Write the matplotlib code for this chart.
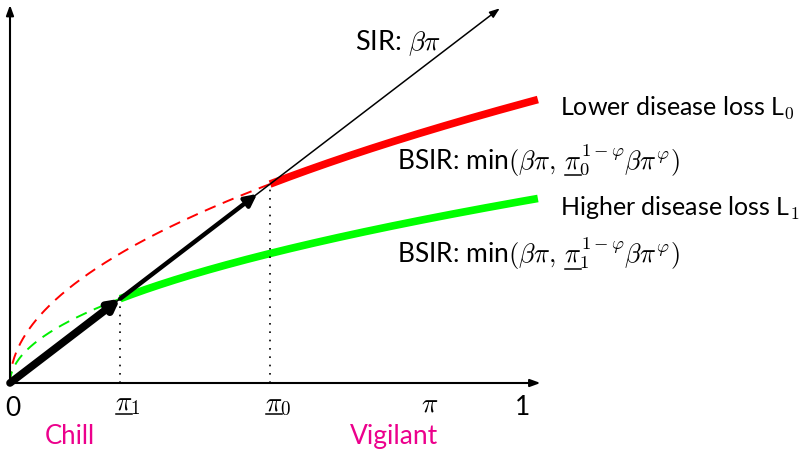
import numpy as np
import matplotlib
matplotlib.use("Agg")
import matplotlib.pyplot as plt
from matplotlib.lines import Line2D

# --- parameters ---
beta = 0.765          # SIR slope
phi = 0.5             # curvature exponent
pi_0 = 0.505          # threshold for lower disease loss
pi_1 = 0.214          # threshold for higher disease loss
pi_end = 1.025        # end of the BSIR curves
sir_end = 0.951       # end of SIR arrow

plt.rcParams['mathtext.fontset'] = 'cm'
plt.rcParams['font.family'] = ['Lato', 'DejaVu Sans']

fig = plt.figure(figsize=(8, 4.49), dpi=100)
ax = fig.add_axes([0, 0, 1, 1])
ax.set_xlim(-10/515, 790/515)
ax.set_ylim(-66/515, 383/515)
ax.axis('off')
renderer = fig.canvas.get_renderer()


def P(px, py):
    """reference pixel -> data coordinates"""
    return (px - 10) / 515, (383 - py) / 515


def width(s, fs):
    t = ax.text(0, 0, s, fontsize=fs)
    w = t.get_window_extent(renderer).width
    t.remove()
    return w


def text_ul(px, py, upto_pi, full, fs, drop=5.0, color='black'):
    """left/baseline text; underline the pi that ends the string upto_pi"""
    x, y = P(px, py)
    ax.text(x, y, full, fontsize=fs, ha='left', va='baseline', color=color)
    we = width(upto_pi, fs)
    w1 = width(r"$\pi$", fs)
    xe = px + we - 0.5
    xs = px + we - w1 + 0.5
    a = P(xs, py + drop)
    b = P(xe, py + drop)
    ax.add_line(Line2D([a[0], b[0]], [a[1], b[1]], color=color, lw=1.1))


arrow_thin = dict(arrowstyle="-|>,head_length=0.6,head_width=0.22", color='black',
                  shrinkA=0, shrinkB=0)

# axes arrows
ax.annotate("", xy=(1.03, 0), xytext=(0, 0), arrowprops=dict(arrow_thin, lw=1.5))
ax.annotate("", xy=(0, 0.734), xytext=(0, 0), arrowprops=dict(arrow_thin, lw=1.5))

# SIR line
ax.annotate("", xy=(sir_end, beta*sir_end), xytext=(0, 0), arrowprops=dict(arrow_thin, lw=1.1))

# dashed curves
p = np.linspace(0, pi_0, 300)
ax.plot(p, pi_0**(1-phi)*beta*p**phi, color='red', lw=1.4, ls=(0, (6, 4)))
p = np.linspace(0, pi_1, 200)
ax.plot(p, pi_1**(1-phi)*beta*p**phi, color='#00ee00', lw=1.4, ls=(0, (6, 4)))

# thick curves
p = np.linspace(pi_0, pi_end, 200)
ax.plot(p, pi_0**(1-phi)*beta*p**phi, color='red', lw=5.5, solid_capstyle='butt')
p = np.linspace(pi_1, pi_end, 300)
ax.plot(p, pi_1**(1-phi)*beta*p**phi, color='#00ff00', lw=5.5, solid_capstyle='butt')

# dotted verticals
for v in (pi_1, pi_0):
    ax.plot([v, v], [0, beta*v], color='black', lw=1.2, ls=(0, (1, 4)))

# black thick arrows
ax.annotate("", xy=(pi_1, beta*pi_1), xytext=(0, 0),
            arrowprops=dict(arrowstyle="-|>,head_length=0.6,head_width=0.32", lw=5.5, color='black',
                            shrinkA=0, shrinkB=0))
ax.annotate("", xy=(pi_0 - 0.025, beta*(pi_0 - 0.025)), xytext=(pi_1, beta*pi_1),
            arrowprops=dict(arrowstyle="-|>,head_length=0.7,head_width=0.35", lw=3.2, color='black',
                            shrinkA=0, shrinkB=0))

fs = 18
fm = 19.5
fb = 19
# tick labels
x, y = P(13, 416); ax.text(x, y, "0", fontsize=fs+1, ha='center', va='baseline')
x, y = P(523, 415); ax.text(x, y, "1", fontsize=fs+1, ha='center', va='baseline')
x, y = P(430, 412); ax.text(x, y, r"$\pi$", fontsize=fm, ha='center', va='baseline')
text_ul(115, 410, r"$\pi$", r"$\pi_\mathsf{1}$", fm, drop=4)
text_ul(265, 410, r"$\pi$", r"$\pi_\mathsf{0}$", fm, drop=4)

# annotations
x, y = P(355, 50); ax.text(x, y, r"SIR: $\beta\pi$", fontsize=fm, ha='left', va='baseline')
x, y = P(560, 115); ax.text(x, y, r"Lower disease loss $\mathsf{L}_\mathsf{0}$", fontsize=fs,
                            ha='left', va='baseline')
text_ul(397, 169, r"BSIR: min$(\beta\pi,\,\pi$",
        r"BSIR: min$(\beta\pi,\,\pi_\mathsf{0}^{1-\varphi}\beta\pi^{\varphi})$", fb, drop=6)
x, y = P(560, 216); ax.text(x, y, r"Higher disease loss $\mathsf{L}_\mathsf{1}$", fontsize=fs,
                            ha='left', va='baseline')
text_ul(397, 263, r"BSIR: min$(\beta\pi,\,\pi$",
        r"BSIR: min$(\beta\pi,\,\pi_\mathsf{1}^{1-\varphi}\beta\pi^{\varphi})$", fb, drop=6)

mag = '#EC008C'
x, y = P(45, 444); ax.text(x, y, "Chill", color=mag, fontsize=fs+0.5, ha='left', va='baseline')
x, y = P(350, 444); ax.text(x, y, "Vigilant", color=mag, fontsize=fs+1, ha='left', va='baseline')

fig.savefig("out.png", dpi=100)
